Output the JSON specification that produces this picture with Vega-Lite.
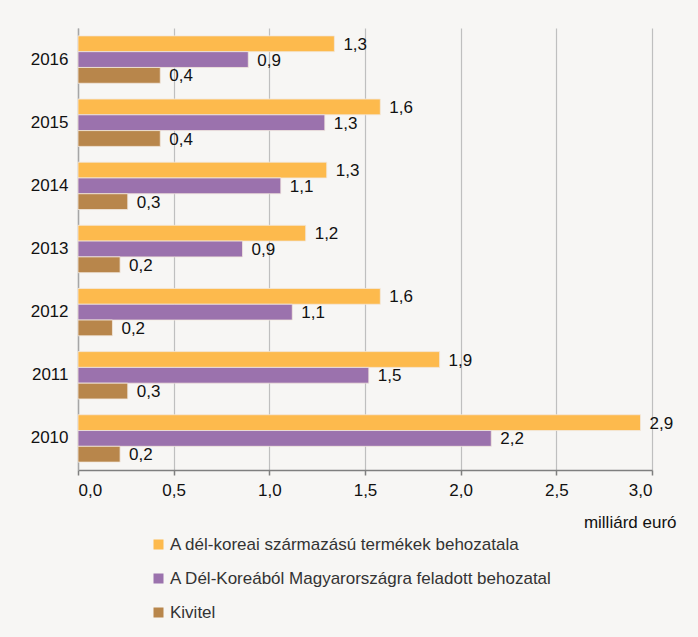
{
  "$schema": "https://vega.github.io/schema/vega-lite/v6.json",
  "width": 574,
  "height": 442,
  "autosize": "none",
  "padding": {"left": 78, "top": 28, "right": 46, "bottom": 167},
  "background": "#f7f6f4",
  "config": {
    "locale": {"number": {"decimal": ",", "thousands": " ", "grouping": [3], "currency": ["", " €"]}},
    "view": {"stroke": null},
    "font": "Liberation Sans"
  },
  "data": {
    "values": [
      {"ev": "2016", "sorozat": "A dél-koreai származású termékek behozatala", "ertek": 1.34},
      {"ev": "2016", "sorozat": "A Dél-Koreából Magyarországra feladott behozatal", "ertek": 0.89},
      {"ev": "2016", "sorozat": "Kivitel", "ertek": 0.43},
      {"ev": "2015", "sorozat": "A dél-koreai származású termékek behozatala", "ertek": 1.58},
      {"ev": "2015", "sorozat": "A Dél-Koreából Magyarországra feladott behozatal", "ertek": 1.29},
      {"ev": "2015", "sorozat": "Kivitel", "ertek": 0.43},
      {"ev": "2014", "sorozat": "A dél-koreai származású termékek behozatala", "ertek": 1.30},
      {"ev": "2014", "sorozat": "A Dél-Koreából Magyarországra feladott behozatal", "ertek": 1.06},
      {"ev": "2014", "sorozat": "Kivitel", "ertek": 0.26},
      {"ev": "2013", "sorozat": "A dél-koreai származású termékek behozatala", "ertek": 1.19},
      {"ev": "2013", "sorozat": "A Dél-Koreából Magyarországra feladott behozatal", "ertek": 0.86},
      {"ev": "2013", "sorozat": "Kivitel", "ertek": 0.22},
      {"ev": "2012", "sorozat": "A dél-koreai származású termékek behozatala", "ertek": 1.58},
      {"ev": "2012", "sorozat": "A Dél-Koreából Magyarországra feladott behozatal", "ertek": 1.12},
      {"ev": "2012", "sorozat": "Kivitel", "ertek": 0.18},
      {"ev": "2011", "sorozat": "A dél-koreai származású termékek behozatala", "ertek": 1.89},
      {"ev": "2011", "sorozat": "A Dél-Koreából Magyarországra feladott behozatal", "ertek": 1.52},
      {"ev": "2011", "sorozat": "Kivitel", "ertek": 0.26},
      {"ev": "2010", "sorozat": "A dél-koreai származású termékek behozatala", "ertek": 2.94},
      {"ev": "2010", "sorozat": "A Dél-Koreából Magyarországra feladott behozatal", "ertek": 2.16},
      {"ev": "2010", "sorozat": "Kivitel", "ertek": 0.22}
    ]
  },
  "encoding": {
    "y": {
      "field": "ev", "type": "ordinal", "sort": "descending",
      "scale": {"paddingInner": 0.25, "paddingOuter": 0.125},
      "axis": {"title": null, "ticks": false, "labelFontSize": 17, "labelColor": "#111", "labelPadding": 10,
               "domainColor": "#a6a6a6", "domainWidth": 1.5, "grid": false}
    },
    "yOffset": {
      "field": "sorozat", "type": "nominal",
      "sort": ["A dél-koreai származású termékek behozatala", "A Dél-Koreából Magyarországra feladott behozatal", "Kivitel"]
    },
    "x": {
      "field": "ertek", "type": "quantitative",
      "scale": {"domain": [0, 3]},
      "axis": {"values": [0, 0.5, 1, 1.5, 2, 2.5, 3], "format": ".1f", "title": "milliárd euró",
               "titleFontSize": 17, "titleFontWeight": "normal", "titleColor": "#111",
               "titleAlign": "right", "titleAnchor": "end", "titleX": 598, "titleY": 57, "titleBaseline": "alphabetic",
               "labelFontSize": 17, "labelColor": "#111", "labelPadding": 7,
               "domainColor": "#7f7f7f", "domainWidth": 1.5, "tickColor": "#7f7f7f", "tickSize": 5, "tickWidth": 1.5,
               "grid": true, "gridColor": "#bfbfbf", "gridWidth": 1.2}
    }
  },
  "layer": [
    {
      "mark": {"type": "bar", "stroke": "#f3e9de", "strokeWidth": 0.8},
      "encoding": {
        "color": {
          "field": "sorozat", "type": "nominal",
          "scale": {
            "domain": ["A dél-koreai származású termékek behozatala", "A Dél-Koreából Magyarországra feladott behozatal", "Kivitel"],
            "range": ["#fdba4d", "#9b72ad", "#b8864b"]
          },
          "legend": {
            "title": null, "orient": "none", "legendX": 72, "legendY": 508,
            "symbolType": "square", "symbolSize": 100, "symbolStrokeWidth": 0,
            "labelFontSize": 17, "labelColor": "#333", "labelOffset": 3, "rowPadding": 16, "labelLimit": 0
          }
        }
      }
    },
    {
      "mark": {"type": "text", "align": "left", "baseline": "middle", "dx": 9, "dy": 1, "fontSize": 17, "color": "#111"},
      "encoding": {
        "text": {"field": "ertek", "type": "quantitative", "format": ".1f"}
      }
    }
  ]
}
